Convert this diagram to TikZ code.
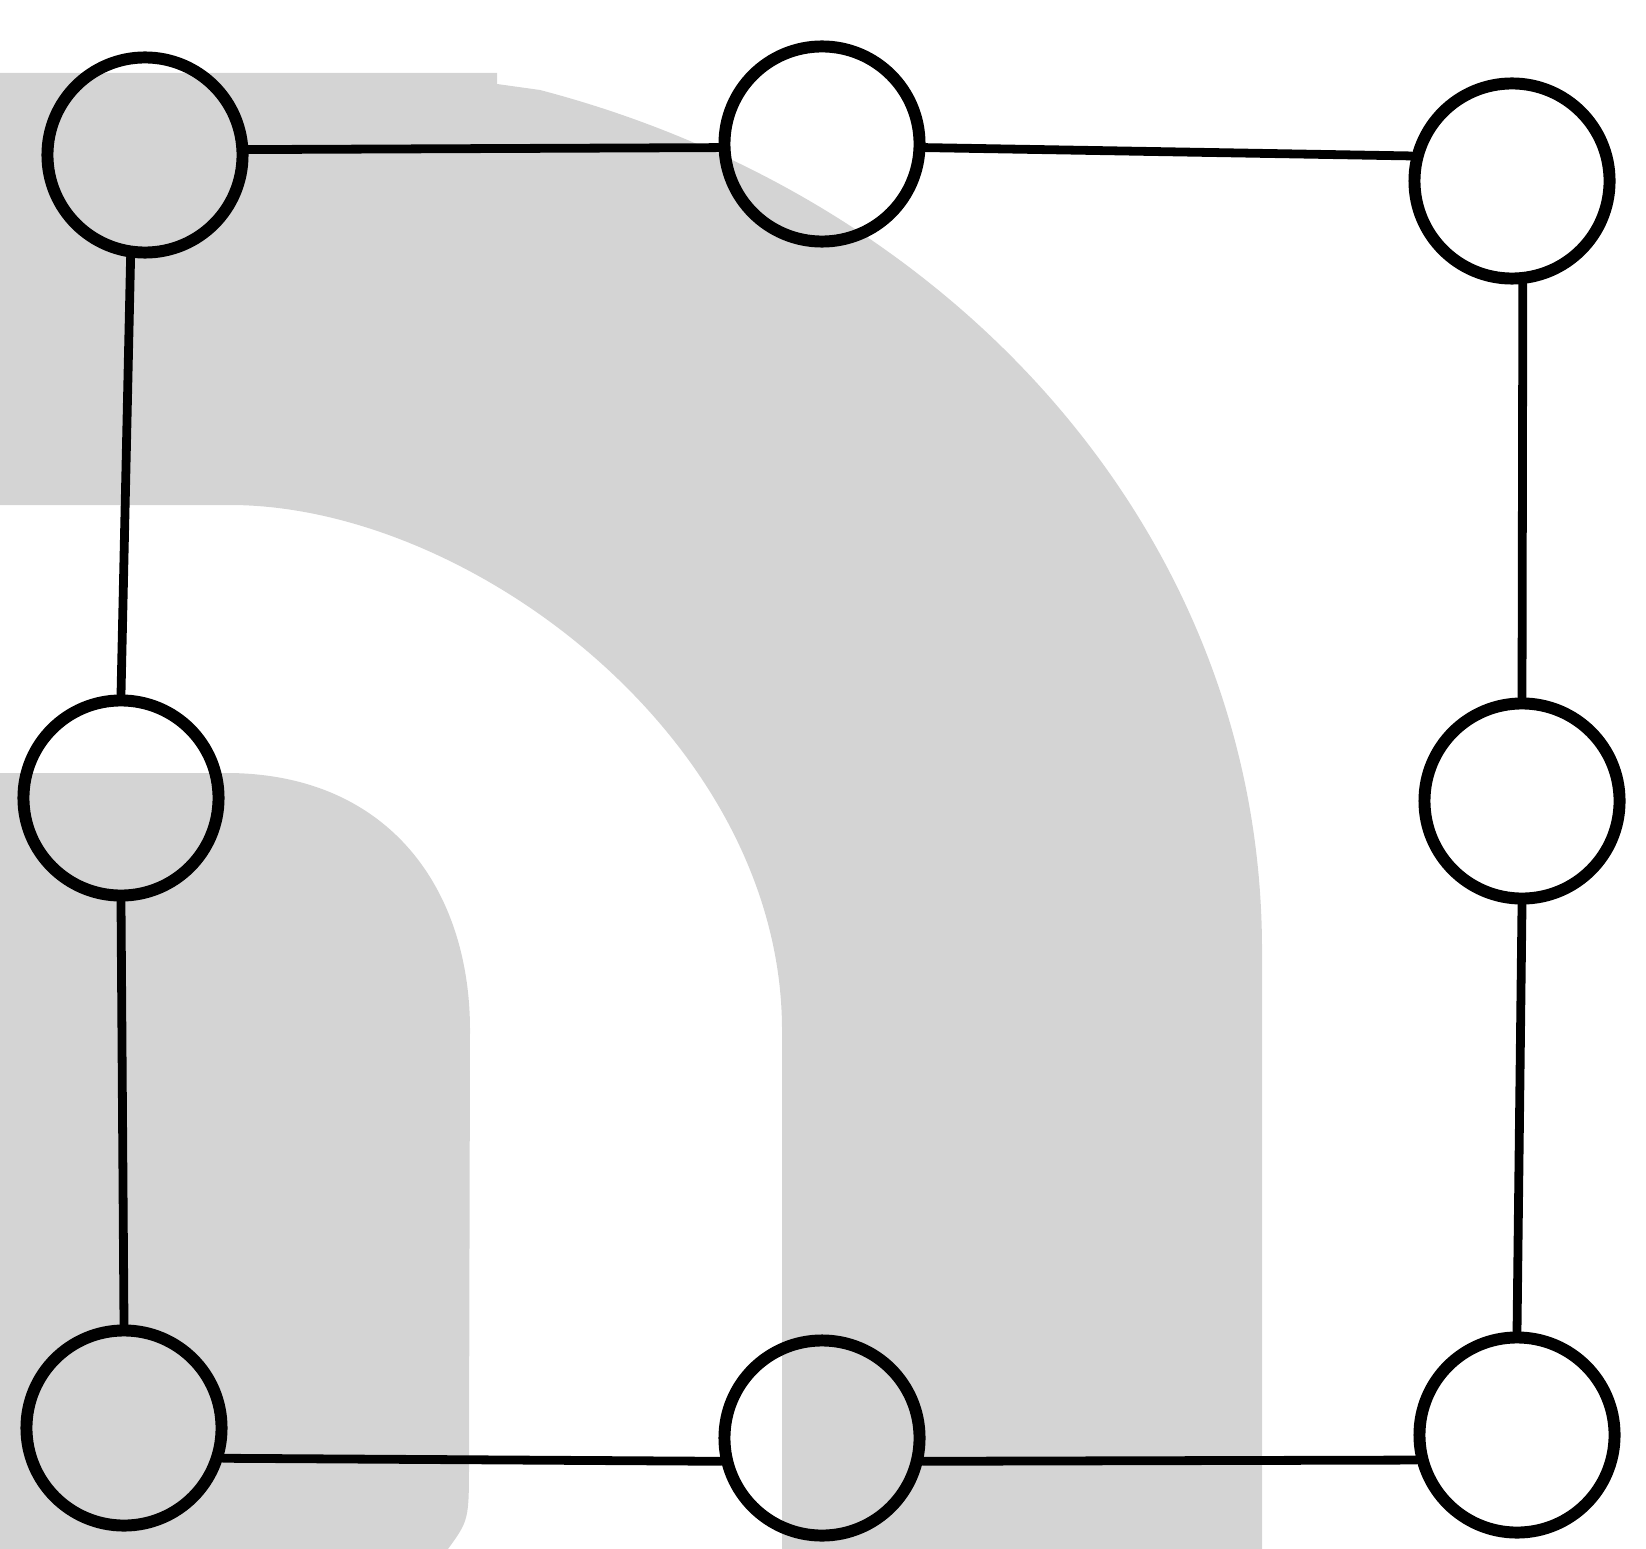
\documentclass[tikz,border=0pt]{standalone}
\definecolor{bandgray}{RGB}{212,212,212}
\begin{document}
\begin{tikzpicture}[x=0.01cm,y=-0.01cm,line join=round,line cap=round,
	vtx/.style={circle,draw=black,line width=3.4pt,minimum size=1.95cm,inner sep=0pt},
	link/.style={line width=2.5pt,black}]
			\useasboundingbox (0,0) rectangle (1646,1549);
			% gray bands
			\fill[bandgray] (0,73)--(497,73)--(497,84)--(540,90) .. controls (960,200) and (1262,540) .. (1262,950)
				--(1262,1549)--(782,1549)--(782,1030) .. controls (782,740) and (470,505) .. (230,505)--(0,505)--cycle;
			\fill[bandgray] (0,773)--(230,773) .. controls (390,775) and (470,890) .. (470,1030)
				--(469,1460) .. controls (469,1520) .. (448,1549)--(0,1549)--cycle;
			
			\node[vtx](TL) at (145,155) {};
			\node[vtx](TM) at (822,144) {};
			\node[vtx](TR) at (1512,181) {};
			\node[vtx](ML) at (121,798) {};
			\node[vtx](MR) at (1522,801) {};
			\node[vtx](BL) at (124,1428) {};
			\node[vtx](BM) at (822,1438) {};
			\node[vtx](BR) at (1517,1435) {};
			
			\draw[link] (TL.3)--(TM.182)  (TM.-2)--(TR.166);
			\draw[link] (TL.262)--(ML.north)  (ML.south)--(BL.north);
			\draw[link] (TR.-84)--(MR.north)  (MR.south)--(BR.north);
			\draw[link] (BL.-17)--(BM.193)  (BM.-13)--(BR.194);
			
			\end{tikzpicture}
\end{document}
